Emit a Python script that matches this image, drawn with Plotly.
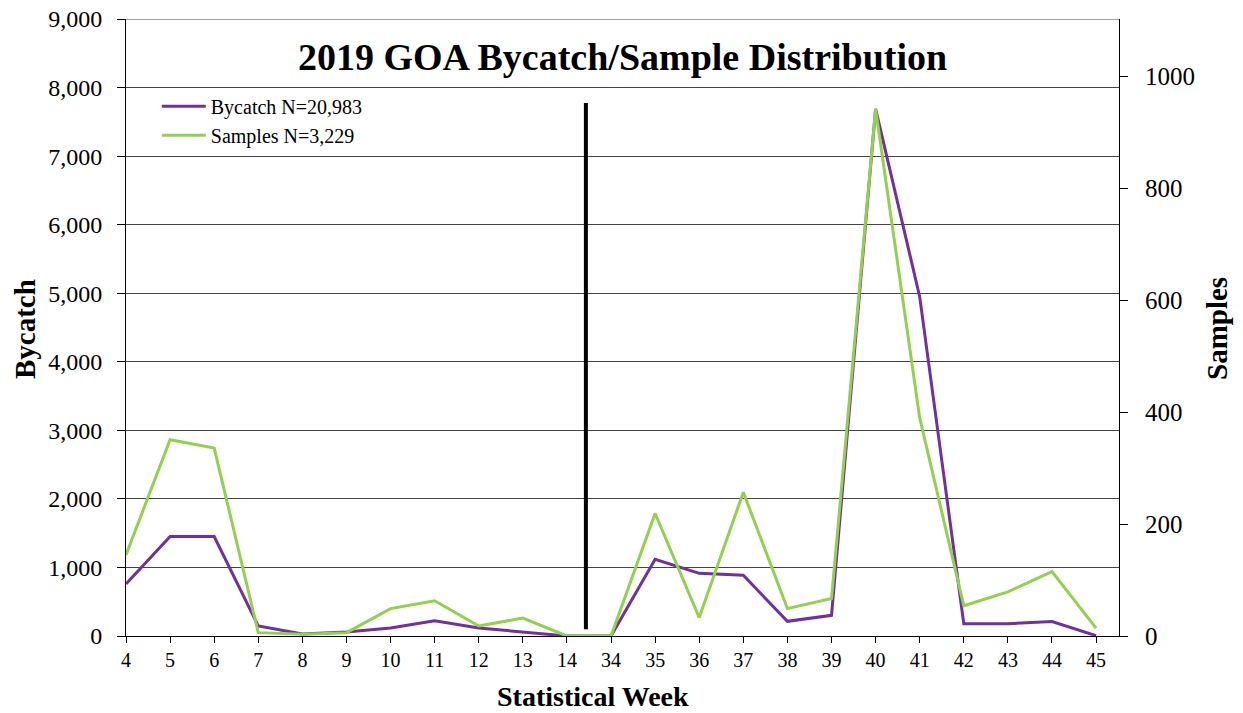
import plotly.graph_objects as go

weeks = ["4", "5", "6", "7", "8", "9", "10", "11", "12", "13", "14",
         "34", "35", "36", "37", "38", "39", "40", "41", "42", "43", "44", "45"]
bycatch = [760, 1450, 1450, 146, 30, 58, 117, 223, 117, 58, 0,
           0, 1118, 914, 885, 214, 301, 7690, 4950, 180, 180, 210, 5]
samples = [145, 351, 336, 6, 3, 6, 49, 63, 18, 32, 0,
           0, 219, 33, 257, 49, 67, 942, 390, 54, 79, 115, 14]
left_ticks = [0, 1000, 2000, 3000, 4000, 5000, 6000, 7000, 8000, 9000]
right_ticks = [0, 200, 400, 600, 800, 1000]

idx = list(range(len(weeks)))
SERIF = "Liberation Serif, Times New Roman, serif"

fig = go.Figure()
fig.add_trace(go.Scatter(x=idx, y=bycatch, name="Bycatch N=20,983", mode="lines",
                         line=dict(color="#7030A0", width=3)))
fig.add_trace(go.Scatter(x=idx, y=samples, name="Samples N=3,229", mode="lines",
                         yaxis="y2", line=dict(color="#92D050", width=3)))

fig.update_layout(
    width=1243, height=713,
    margin=dict(l=126, r=124, t=19, b=77, autoexpand=False),
    paper_bgcolor="white", plot_bgcolor="white",
    font=dict(family=SERIF, color="black"),
    showlegend=True,
    legend=dict(x=0.031, y=0.89, xanchor="left", yanchor="top",
                font=dict(family=SERIF, size=20, color="black"),
                bgcolor="rgba(255,255,255,0)", itemwidth=44, tracegroupgap=0),
    xaxis=dict(range=[0, 22.52], tickmode="array", tickvals=idx, ticktext=weeks,
               showgrid=False, zeroline=False, showline=True, linecolor="black", linewidth=1,
               ticks="outside", ticklen=6, tickcolor="black", automargin=False,
               tickfont=dict(family=SERIF, size=20, color="black")),
    yaxis=dict(range=[0, 9000], tickmode="array", tickvals=left_ticks, tickformat=",",
               showgrid=True, gridcolor="#444444", gridwidth=1, zeroline=False,
               showline=True, linecolor="black", linewidth=1, automargin=False,
               ticks="outside", ticklen=8, tickcolor="black", ticklabelstandoff=10,
               ticklabeloverflow="allow",
               tickfont=dict(family=SERIF, size=24, color="black")),
    yaxis2=dict(range=[0, 1103], overlaying="y", side="right", tickmode="array",
                tickvals=right_ticks, showgrid=False, zeroline=False,
                showline=True, linecolor="black", linewidth=1, automargin=False,
                ticks="outside", ticklen=8, tickcolor="black", ticklabelstandoff=12,
                ticklabeloverflow="allow",
                tickfont=dict(family=SERIF, size=25, color="black")),
    shapes=[
        dict(type="line", xref="paper", yref="y", x0=0, x1=1, y0=9000, y1=9000,
             line=dict(color="#444444", width=1), layer="below"),
        dict(type="line", xref="x", yref="y", x0=10.43, x1=10.43, y0=98, y1=7774,
             line=dict(color="black", width=4)),
    ],
    annotations=[
        dict(text="<b>2019 GOA Bycatch/Sample Distribution</b>", xref="paper", yref="paper",
             x=(622 - 126) / 993, y=1 - (57 - 19) / 617, xanchor="center", yanchor="middle",
             showarrow=False, font=dict(family=SERIF, size=38, color="black")),
        dict(text="<b>Statistical Week</b>", xref="paper", yref="paper",
             x=(593 - 126) / 993, y=1 - (696 - 19) / 617, xanchor="center", yanchor="middle",
             showarrow=False, font=dict(family=SERIF, size=28, color="black")),
        dict(text="<b>Bycatch</b>", xref="paper", yref="paper", textangle=-90,
             x=(25 - 126) / 993, y=1 - (329 - 19) / 617, xanchor="center", yanchor="middle",
             showarrow=False, font=dict(family=SERIF, size=29, color="black")),
        dict(text="<b>Samples</b>", xref="paper", yref="paper", textangle=-90,
             x=(1217 - 126) / 993, y=1 - (329 - 19) / 617, xanchor="center", yanchor="middle",
             showarrow=False, font=dict(family=SERIF, size=29, color="black")),
    ],
)

fig.write_html("out.html", config={"displayModeBar": False},
               post_script="document.body.style.margin='0px';document.body.style.overflow='hidden';")
